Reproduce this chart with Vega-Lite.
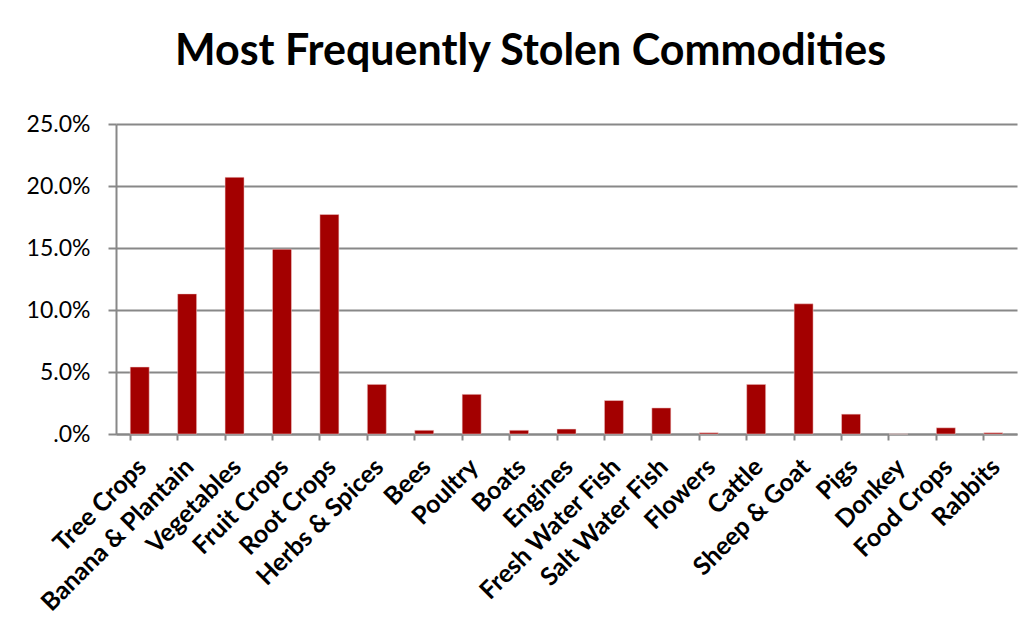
{
  "$schema": "https://vega.github.io/schema/vega-lite/v6.json",
  "autosize": {"type": "none"},
  "padding": {"left": 116, "top": 124, "right": 13, "bottom": 196},
  "width": 901,
  "height": 310,
  "background": "white",
  "title": {
    "text": "Most Frequently Stolen Commodities",
    "font": "Lato",
    "fontSize": 43,
    "fontWeight": "bold",
    "color": "black",
    "anchor": "middle",
    "frame": "group",
    "dx": -36,
    "offset": 39
  },
  "data": {
    "values": [
      {"commodity": "Tree Crops", "share": 0.054},
      {"commodity": "Banana & Plantain", "share": 0.113},
      {"commodity": "Vegetables", "share": 0.207},
      {"commodity": "Fruit Crops", "share": 0.149},
      {"commodity": "Root Crops", "share": 0.177},
      {"commodity": "Herbs & Spices", "share": 0.040},
      {"commodity": "Bees", "share": 0.003},
      {"commodity": "Poultry", "share": 0.032},
      {"commodity": "Boats", "share": 0.003},
      {"commodity": "Engines", "share": 0.004},
      {"commodity": "Fresh Water Fish", "share": 0.027},
      {"commodity": "Salt Water Fish", "share": 0.021},
      {"commodity": "Flowers", "share": 0.001},
      {"commodity": "Cattle", "share": 0.040},
      {"commodity": "Sheep & Goat", "share": 0.105},
      {"commodity": "Pigs", "share": 0.016},
      {"commodity": "Donkey", "share": 0.0},
      {"commodity": "Food Crops", "share": 0.005},
      {"commodity": "Rabbits", "share": 0.001}
    ]
  },
  "mark": {"type": "bar", "color": "#a30000", "stroke": "#f2d0d0", "strokeWidth": 0.5},
  "encoding": {
    "x": {
      "field": "commodity",
      "type": "nominal",
      "sort": null,
      "scale": {"paddingInner": 0.6, "paddingOuter": 0.3},
      "axis": {
        "title": null,
        "labelAngle": -45,
        "labelFont": "Lato",
        "labelFontSize": 25,
        "labelFontWeight": "bold",
        "labelColor": "black",
        "labelPadding": 14,
        "labelOffset": -6,
        "labelLimit": 0,
        "labelOverlap": false,
        "bandPosition": 0,
        "tickColor": "#888888",
        "tickWidth": 2,
        "tickSize": 6,
        "domainColor": "#888888",
        "domainWidth": 2,
        "grid": false
      }
    },
    "y": {
      "field": "share",
      "type": "quantitative",
      "scale": {"domain": [0, 0.25], "nice": false},
      "axis": {
        "title": null,
        "values": [0, 0.05, 0.1, 0.15, 0.2, 0.25],
        "labelExpr": "datum.value == 0 ? '.0%' : format(datum.value, '.1%')",
        "labelFont": "Lato",
        "labelFontSize": 23,
        "labelColor": "black",
        "labelPadding": 18,
        "tickColor": "#888888",
        "tickWidth": 2,
        "tickSize": 8,
        "domainColor": "#888888",
        "domainWidth": 2,
        "grid": true,
        "gridColor": "#888888",
        "gridWidth": 2
      }
    }
  },
  "config": {"view": {"stroke": null}}
}
